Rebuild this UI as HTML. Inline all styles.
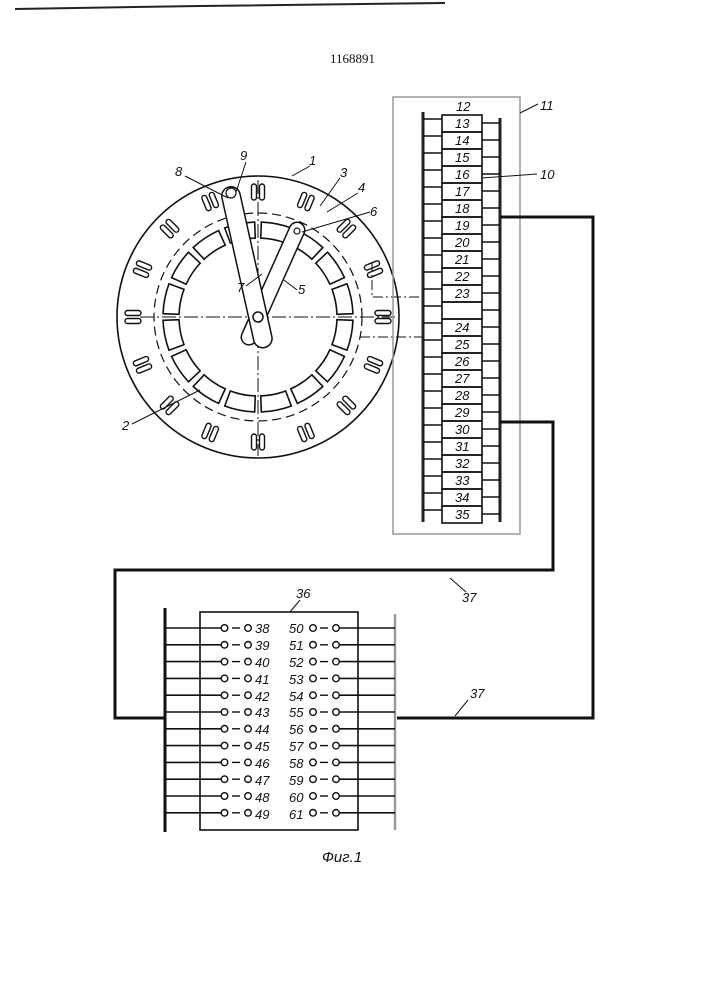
<!DOCTYPE html>
<html><head><meta charset="utf-8"><style>
html,body{margin:0;padding:0;background:#fff;width:707px;height:1000px;overflow:hidden}
svg{display:block}
text{font-family:"Liberation Sans",sans-serif;font-style:italic;font-size:13px;fill:#111}
</style></head><body>
<svg id="s" width="707" height="1000" viewBox="0 0 707 1000" xmlns="http://www.w3.org/2000/svg">
<path d="M15 9 L200 6 L445 3" stroke="#222" stroke-width="2" fill="none"/>
<text x="330" y="63" style="font-style:normal;font-family:'Liberation Serif',serif;font-size:13px">1168891</text>
<g id="circ" fill="none" stroke="#111" stroke-width="1.6">
<circle cx="258" cy="317" r="141"/>
<circle cx="258" cy="317" r="104" stroke-dasharray="9 5" stroke-width="1.2"/>
</g>
<g id="g" fill="none" stroke="#111"></g>
<text x="240" y="160">9</text><text x="175" y="176">8</text><text x="309" y="165">1</text>
<text x="340" y="177">3</text><text x="358" y="192">4</text><text x="370" y="216">6</text>
<text x="237" y="292">7</text><text x="298" y="294">5</text><text x="122" y="430">2</text>
<g stroke="#111" stroke-width="1" fill="none">
<path d="M246 162 L236 192"/><path d="M185 176 L228 198"/><path d="M310 166 L292 176"/>
<path d="M340 178 L320 206"/><path d="M358 193 L327 212"/><path d="M370 212 L302 232"/>
<path d="M246 286 L262 274"/><path d="M297 290 L284 280"/><path d="M132 424 L200 390"/>
</g>
<rect x="393" y="97" width="127" height="437" fill="none" stroke="#999" stroke-width="1.5"/>
<text x="456" y="111">12</text><text x="540" y="110">11</text><text x="540" y="179">10</text>
<path d="M520 113 L538 104 M482 178 L537 174" stroke="#111" fill="none"/>
<g id="col"></g>
<text x="455" y="128">13</text><text x="455" y="145">14</text><text x="455" y="162">15</text>
<text x="455" y="179">16</text><text x="455" y="196">17</text><text x="455" y="213">18</text>
<text x="455" y="230">19</text><text x="455" y="247">20</text><text x="455" y="264">21</text>
<text x="455" y="281">22</text><text x="455" y="298">23</text>
<text x="455" y="332">24</text><text x="455" y="349">25</text><text x="455" y="366">26</text>
<text x="455" y="383">27</text><text x="455" y="400">28</text><text x="455" y="417">29</text>
<text x="455" y="434">30</text><text x="455" y="451">31</text><text x="455" y="468">32</text>
<text x="455" y="485">33</text><text x="455" y="502">34</text><text x="455" y="519">35</text>
<g stroke="#111" stroke-width="3" fill="none">
<path d="M500 217 L593 217 L593 718 L397 718"/>
<path d="M500 422 L553 422 L553 570 L115 570 L115 718 L165 718"/>
</g>
<text x="462" y="602">37</text><text x="470" y="698">37</text>
<path d="M450 578 L466 592 M468 700 L455 716" stroke="#111" fill="none"/>
<rect x="200" y="612" width="158" height="218" fill="none" stroke="#111" stroke-width="1.6"/>
<text x="296" y="598">36</text><path d="M300 600 L290 612" stroke="#111"/>
<line x1="165" y1="608" x2="165" y2="832" stroke="#111" stroke-width="3"/>
<line x1="395" y1="614" x2="395" y2="830" stroke="#999" stroke-width="2.5"/>
<g id="bb"></g>
<text x="255" y="633">38</text><text x="255" y="650">39</text><text x="255" y="667">40</text>
<text x="255" y="684">41</text><text x="255" y="701">42</text><text x="255" y="717">43</text>
<text x="255" y="734">44</text><text x="255" y="751">45</text><text x="255" y="768">46</text>
<text x="255" y="785">47</text><text x="255" y="802">48</text><text x="255" y="819">49</text>
<text x="289" y="633">50</text><text x="289" y="650">51</text><text x="289" y="667">52</text>
<text x="289" y="684">53</text><text x="289" y="701">54</text><text x="289" y="717">55</text>
<text x="289" y="734">56</text><text x="289" y="751">57</text><text x="289" y="768">58</text>
<text x="289" y="785">59</text><text x="289" y="802">60</text><text x="289" y="819">61</text>
<text x="322" y="862" style="font-size:15px">Фиг.1</text>
</svg>
<script>
var NS="http://www.w3.org/2000/svg";
function el(p,t,a){var e=document.createElementNS(NS,t);for(var k in a)e.setAttribute(k,a[k]);document.getElementById(p).appendChild(e);return e;}
var cx=258,cy=317;
function pt(r,a){return [cx+r*Math.sin(a),cy-r*Math.cos(a)];}
for(var i=0;i<16;i++){var a0=(i*22.5+2)*Math.PI/180,a1=((i+1)*22.5-2)*Math.PI/180;
var p1=pt(95,a0),p2=pt(95,a1),p3=pt(79,a1),p4=pt(79,a0);
el("g","path",{d:"M"+p1+" A95 95 0 0 1 "+p2+" L"+p3+" A79 79 0 0 0 "+p4+"Z","stroke-width":"1.6"});}
for(var i=0;i<16;i++){var ang=i*22.5;var c=pt(125,ang*Math.PI/180);
for(var s=-1;s<=1;s+=2){el("g","rect",{x:c[0]-2.5+s*4,y:c[1]-8,width:5,height:16,rx:2.5,"stroke-width":"1.4",transform:"rotate("+ang+" "+c[0]+" "+c[1]+")"});}}
el("g","path",{d:"M140 317 L395 317 M258 180 L258 456","stroke-width":"1","stroke-dasharray":"14 3 2 3"});
el("g","path",{d:"M372 262 L372 297 L425 297 M360 337 L425 337","stroke-width":"1","stroke-dasharray":"10 3 2 3"});
function arm(x2,y2,w){var dx=x2-cx,dy=y2-cy,L=Math.sqrt(dx*dx+dy*dy);var x1=cx-dx/L*22,y1=cy-dy/L*22;
el("g","line",{x1:x1,y1:y1,x2:x2,y2:y2,"stroke-width":w+3,"stroke-linecap":"round",stroke:"#111"});
el("g","line",{x1:x1,y1:y1,x2:x2,y2:y2,"stroke-width":w,"stroke-linecap":"round",stroke:"#fff"});}
arm(297,230,14);arm(231,196,17);
el("g","circle",{cx:cx,cy:cy,r:5,"stroke-width":"1.5",fill:"#fff"});
el("g","circle",{cx:231,cy:193,r:5,"stroke-width":"1.2"});
el("g","circle",{cx:297,cy:231,r:3,"stroke-width":"1.2"});
el("col","line",{x1:423,y1:112,x2:423,y2:522,stroke:"#222","stroke-width":3});
el("col","line",{x1:500,y1:118,x2:500,y2:522,stroke:"#222","stroke-width":3});
for(var i=0;i<24;i++){var y=115+i*17;
el("col","rect",{x:442,y:y,width:40,height:17,fill:"none",stroke:"#111","stroke-width":1.6});
el("col","line",{x1:423,y1:y+4,x2:442,y2:y+4,stroke:"#111","stroke-width":1.4});
el("col","line",{x1:482,y1:y+8,x2:500,y2:y+8,stroke:"#111","stroke-width":1.4});}
for(var i=0;i<12;i++){var y=628+i*16.8;
el("bb","line",{x1:165,y1:y,x2:221,y2:y,stroke:"#111","stroke-width":1.6});
el("bb","circle",{cx:224.5,cy:y,r:3.3,fill:"none",stroke:"#111","stroke-width":1.4});
el("bb","line",{x1:232,y1:y,x2:240,y2:y,stroke:"#111","stroke-width":1.4});
el("bb","circle",{cx:248,cy:y,r:3.3,fill:"none",stroke:"#111","stroke-width":1.4});
el("bb","circle",{cx:313,cy:y,r:3.3,fill:"none",stroke:"#111","stroke-width":1.4});
el("bb","line",{x1:320,y1:y,x2:328,y2:y,stroke:"#111","stroke-width":1.4});
el("bb","circle",{cx:336,cy:y,r:3.3,fill:"none",stroke:"#111","stroke-width":1.4});
el("bb","line",{x1:339.5,y1:y,x2:395,y2:y,stroke:"#111","stroke-width":1.6});}
</script>
</body></html>
